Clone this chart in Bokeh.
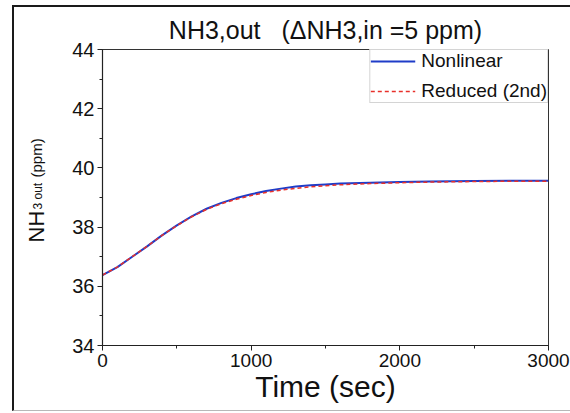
import math
from bokeh.plotting import figure
from bokeh.layouts import row
from bokeh.models import (Range1d, SingleIntervalTicker, Label, Legend, LegendItem,
                          InlineStyleSheet)
from bokeh.embed import file_html
from bokeh.resources import INLINE

# ---- data ----
time_s = [0, 100, 200, 300, 400, 500, 600, 700, 800, 900, 1000, 1100, 1200, 1300,
          1400, 1500, 1600, 1800, 2000, 2200, 2500, 2800, 3000]
nonlinear = [36.38, 36.65, 37.00, 37.35, 37.72, 38.06, 38.36, 38.62, 38.82, 38.98,
             39.11, 39.22, 39.30, 39.37, 39.41, 39.44, 39.47, 39.50, 39.52, 39.54,
             39.56, 39.57, 39.57]
reduced = [36.38, 36.65, 37.00, 37.35, 37.72, 38.05, 38.35, 38.60, 38.79, 38.94,
           39.07, 39.17, 39.25, 39.31, 39.36, 39.40, 39.43, 39.47, 39.50, 39.52,
           39.54, 39.55, 39.55]
series_names = ["Nonlinear", "Reduced (2nd)"]
NB = "\u00a0"
title_text = "NH3,out" + NB * 3 + "(\u0394NH3,in =5 ppm)"
x_label = "Time (sec)"
y_label_parts = ["NH", "3 out", "(ppm)"]

FONT = "Liberation Sans"
W, H = 570, 413
LEFT_W = 60        # strip holding the y-axis title
FL, FR, FT, FB = 102, 548, 49, 345  # frame edges in page px

# ---- main plot ----
MW = W - LEFT_W
p = figure(width=MW, height=H, output_backend="svg", toolbar_location=None,
           x_range=Range1d(0, 3000), y_range=Range1d(34, 44),
           min_border_left=FL - LEFT_W, min_border_right=W - FR,
           min_border_top=FT, min_border_bottom=H - FB)
p.background_fill_color = "white"
p.border_fill_color = "white"
p.outline_line_color = "#333333"
p.outline_line_width = 1
p.xgrid.visible = False
p.ygrid.visible = False

p.title.text = title_text
p.title.text_font = FONT
p.title.text_font_size = "25px"
p.title.text_font_style = "normal"
p.title.text_color = "#111111"
p.title.align = "center"
p.title.offset = -5
p.title.standoff = 12

p.xaxis.ticker = SingleIntervalTicker(interval=1000, num_minor_ticks=2)
p.yaxis.ticker = SingleIntervalTicker(interval=2, num_minor_ticks=2)
for ax in (p.xaxis[0], p.yaxis[0]):
    ax.axis_line_color = "#222222"
    ax.axis_line_width = 1.2
    ax.major_tick_line_color = "#222222"
    ax.minor_tick_line_color = "#222222"
    ax.major_tick_out = 5
    ax.major_tick_in = 0
    ax.minor_tick_out = 3
    ax.minor_tick_in = 0
    ax.major_label_text_font = FONT
    ax.major_label_text_font_size = "19px"
    ax.major_label_text_color = "#111111"
    ax.major_label_standoff = 3
p.yaxis.major_label_text_font_size = "20px"

p.xaxis.axis_label = x_label
p.xaxis.axis_label_text_font = FONT
p.xaxis.axis_label_text_font_size = "30px"
p.xaxis.axis_label_text_font_style = "normal"
p.xaxis.axis_label_text_color = "#111111"
p.xaxis.axis_label_standoff = 0

r1 = p.line(time_s, nonlinear, line_color="#1f3cc8", line_width=2)
r2 = p.line(time_s, reduced, line_color="#e8302a", line_width=1.5, line_dash="4 3")

legend = Legend(items=[LegendItem(label=series_names[0], renderers=[r1]),
                       LegendItem(label=series_names[1], renderers=[r2])],
                location="top_right", padding=0, spacing=8, margin=0,
                glyph_width=45, glyph_height=20, label_height=20, label_standoff=6,
                label_text_font=FONT, label_text_font_size="19px",
                label_text_color="#111111",
                border_line_color="#aaaaaa", border_line_width=1,
                background_fill_color="white", background_fill_alpha=1)
p.add_layout(legend)

# ---- left strip: y-axis title with subscript ----
left = figure(width=LEFT_W, height=H, output_backend="svg",
              toolbar_location=None, x_axis_type=None, y_axis_type=None,
              x_range=Range1d(0, 1), y_range=Range1d(0, 1), min_border=0,
              min_border_top=FT, min_border_bottom=H - FB)
left.outline_line_color = None
left.grid.visible = False
left.background_fill_color = "white"
left.border_fill_color = "white"


def ly(page_y):
    return FB - page_y  # screen y measured from the (aligned) frame bottom


for txt, bx, by, fs in [(y_label_parts[0], 36, 242, "22px"),
                        (y_label_parts[1], 37, 209, "12px"),
                        (y_label_parts[2], 36, 177, "15px")]:
    left.add_layout(Label(x=bx, y=ly(by), x_units="screen", y_units="screen",
                          text=txt, angle=math.pi / 2, text_font=FONT,
                          text_font_size=fs, text_color="#111111",
                          text_align="left", text_baseline="alphabetic"))

layout = row(left, p, spacing=0)
# scanned page border (left / top dark, bottom faint)
layout.stylesheets = [InlineStyleSheet(css="""
:host { position: relative; }
:host::after {
  content: ""; position: absolute; left: 12px; top: 5px; right: 0; bottom: 2px;
  border-left: 2px solid #1a1a1a; border-top: 2px solid #1a1a1a;
  border-bottom: 1px solid #b8b8b8; box-sizing: border-box;
  pointer-events: none; z-index: 10;
}
""")]
open("out.html", "w").write(file_html(layout, INLINE))
